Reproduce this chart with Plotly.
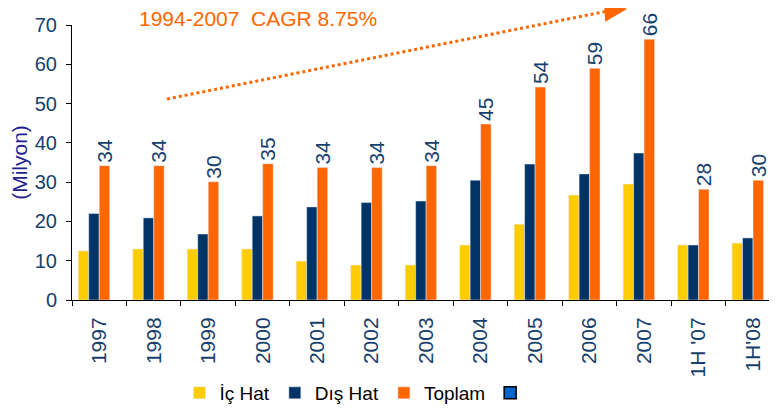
import plotly.graph_objects as go

categories = ["1997", "1998", "1999", "2000", "2001", "2002", "2003", "2004", "2005", "2006", "2007", "1H '07", "1H'08"]
ic_hat = [12.5, 13.0, 13.0, 13.0, 9.9, 8.9, 8.9, 14.0, 19.3, 26.7, 29.5, 14.0, 14.5]
dis_hat = [22.0, 20.9, 16.8, 21.4, 23.7, 24.8, 25.2, 30.5, 34.6, 32.1, 37.4, 14.0, 15.8]
toplam = [34.2, 34.2, 30.1, 34.7, 33.7, 33.7, 34.2, 44.8, 54.2, 59.0, 66.4, 28.2, 30.5]
toplam_labels = ["34", "34", "30", "35", "34", "34", "34", "45", "54", "59", "66", "28", "30"]
empty_series = [None] * len(categories)

NAVY = "#003366"
TXT = "#17406D"
ORANGE = "#FF6600"
FONT = "Liberation Sans, Arial, sans-serif"

# the page body has an 8px margin, so the figure is shifted by 8px in the window
OFF = 8
W, H = 777 - OFF, 408 - OFF
L, T = 72 - OFF, 25 - OFF
B = H - (300 - OFF)
PW, PH = W - L, H - T - B


def px(x, y):
    """window pixel -> paper coords"""
    x, y = x - OFF, y - OFF
    return (x - L) / PW, (H - B - y) / PH


fig = go.Figure()
fig.add_bar(x=categories, y=ic_hat, name="İç Hat", marker_color="#FFCC00")
fig.add_bar(x=categories, y=dis_hat, name="Dış Hat", marker_color=NAVY)
fig.add_bar(x=categories, y=toplam, name="Toplam", marker_color=ORANGE,
            text=toplam_labels, textposition="outside", textangle=-90,
            constraintext="none", cliponaxis=False,
            textfont=dict(size=21, color=TXT, family=FONT))
fig.add_bar(x=categories, y=empty_series, name=" ", marker_color="#0066CC",
            marker_line=dict(color="black", width=1.5))

# dotted trend arrow
x0, y0 = px(167, 99)
x1, y1 = px(613, 10)
fig.add_shape(type="line", xref="paper", yref="paper", x0=x0, y0=y0, x1=x1, y1=y1,
              line=dict(color=ORANGE, width=3, dash="dot"))
xt, yt = px(627, 7)
fig.add_annotation(xref="paper", yref="paper", x=xt, y=yt, ax=-16, ay=3,
                   text="", showarrow=True, arrowhead=2, arrowsize=1.8,
                   arrowwidth=2.5, arrowcolor=ORANGE)
cx, cy = px(137, 18)
fig.add_annotation(xref="paper", yref="paper", x=cx, y=cy,
                   xanchor="left", yanchor="middle", showarrow=False,
                   text="1994-2007  CAGR 8.75%",
                   font=dict(size=21, color=ORANGE, family=FONT))

lx, ly = px(360, 393)
fig.update_layout(
    width=W, height=H,
    margin=dict(l=L, r=0, t=T, b=B, pad=0, autoexpand=False),
    paper_bgcolor="white", plot_bgcolor="white",
    barmode="group", bargap=0.23, bargroupgap=0,
    font=dict(family=FONT),
    showlegend=True,
    legend=dict(orientation="h", x=lx, y=ly, xanchor="center", yanchor="middle",
                font=dict(size=19, color="black", family=FONT),
                itemwidth=30, tracegroupgap=0),
)
fig.update_xaxes(
    range=[-0.5, 12.44], type="category", automargin=False,
    showline=True, linecolor="black", linewidth=1,
    ticks="outside", ticklen=5, tickcolor="black", tickson="boundaries",
    tickangle=-90, tickfont=dict(size=21, color=TXT, family=FONT),
    ticklabelstandoff=8,
    showgrid=False,
)
fig.update_yaxes(
    range=[0, 70], dtick=10, automargin=False,
    showline=True, linecolor="black", linewidth=1,
    ticks="outside", ticklen=5, tickcolor="black",
    tickfont=dict(size=20, color=TXT, family=FONT),
    ticklabelstandoff=5,
    showgrid=False, zeroline=False,
    title=dict(text="(Milyon)", font=dict(size=21, color="#1F1F8F", family=FONT), standoff=2),
)

fig.write_html("out.html")
